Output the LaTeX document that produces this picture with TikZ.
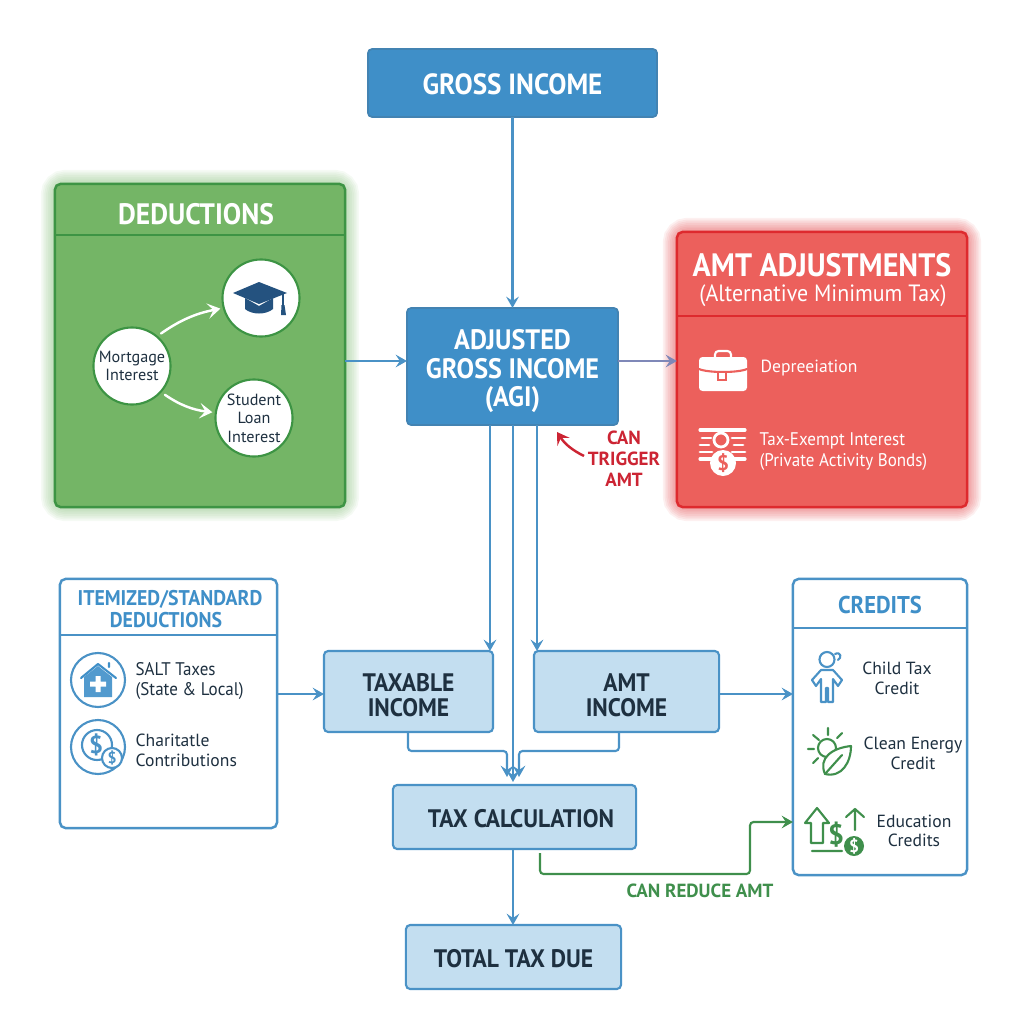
\documentclass[tikz,border=0pt]{standalone}
\usepackage{fontspec}
\setmainfont{PT Sans}
\newfontfamily\headfont[FakeStretch=0.93]{PT Sans}
\usetikzlibrary{arrows.meta,backgrounds}
\definecolor{blueMain}{HTML}{3F8FC8}
\definecolor{blueEdge}{HTML}{4A92C6}
\definecolor{blueLight}{HTML}{C3DEF0}
\definecolor{greenMain}{HTML}{74B566}
\definecolor{greenEdge}{HTML}{3D9444}
\definecolor{greenLine}{HTML}{3F8F4C}
\definecolor{redMain}{HTML}{EC605C}
\definecolor{redEdge}{HTML}{DE2A2E}
\definecolor{redText}{HTML}{CC2433}
\definecolor{darkText}{HTML}{1E3040}
\definecolor{capBlue}{HTML}{24527F}
\definecolor{mixLine}{HTML}{7F88B8}
\begin{document}
\begin{tikzpicture}[x=0.01cm,y=-0.01cm]
	\tikzstyle{MainBox} = [rectangle, rounded corners=1.2pt, inner sep=0, outer sep=0, text centered, align=center, draw=blueEdge!90!black, line width=0.5pt, fill=blueMain, text=white, font=\headfont\bfseries\fontsize{8.3}{8.3}\selectfont]
	\tikzstyle{LightBox} = [rectangle, rounded corners=1.2pt, inner sep=0, outer sep=0, text centered, align=center, draw=blueEdge, line width=0.6pt, fill=blueLight, text=darkText, font=\headfont\bfseries\fontsize{7.2}{7.1}\selectfont]
	\tikzstyle{PanelBox} = [rectangle, rounded corners=1.6pt, inner sep=0, outer sep=0, line width=0.7pt]
	\tikzstyle{Bubble} = [circle, inner sep=0, outer sep=0, minimum size=0.77cm, draw=greenEdge, line width=0.6pt, fill=white, align=center, text=darkText, font=\fontsize{4.6}{5.3}\selectfont]
	\tikzstyle{Label} = [inner sep=0, align=left, anchor=west, text=darkText, font=\fontsize{5}{5.7}\selectfont]
	\tikzstyle{CenterLabel} = [inner sep=0, align=center, text=darkText, font=\fontsize{5}{5.6}\selectfont]
	\tikzstyle{Title} = [inner sep=0, align=center, font=\headfont\bfseries\fontsize{8.4}{8.4}\selectfont]
	\tikzstyle{arrow} = [line width=0.6pt, draw=blueEdge, ->, >={Stealth[length=3.2pt,width=3.6pt,inset=1.2pt]}, rounded corners=1pt]
	\tikzstyle{whiteArrow} = [white, line width=0.7pt, line cap=round, shorten <=1.5pt, shorten >=1pt, ->, >={Stealth[length=3.6pt,width=4.4pt,inset=1.6pt]}]
	\tikzstyle{icon} = [line width=0.6pt, line join=round, line cap=round]
	\useasboundingbox (0,0) rectangle (1024,1024);

	% main column
	\node (grossNode) [MainBox, minimum width=2.89cm, minimum height=0.68cm] at (512.5,83) {\rule{0pt}{6.6pt}GROSS INCOME};
	\node (agiNode) [MainBox, minimum width=2.11cm, minimum height=1.17cm, font=\headfont\bfseries\fontsize{8}{8.1}\selectfont] at (512.5,366.5) {\rule{0pt}{8.5pt}ADJUSTED\\GROSS INCOME\\(AGI)};
	\node (taxableNode) [LightBox, minimum width=1.69cm, minimum height=0.81cm] at (408.5,691.5) {\rule{0pt}{7pt}TAXABLE\\INCOME};
	\node (amtIncomeNode) [LightBox, minimum width=1.85cm, minimum height=0.81cm] at (626.5,691.5) {\rule{0pt}{7pt}AMT\\INCOME};
	\node (calcNode) [LightBox, minimum width=2.43cm, minimum height=0.64cm] at (514.5,817) {\hspace*{0.13cm}\rule{0pt}{6.2pt}TAX CALCULATION};
	\node (totalNode) [LightBox, minimum width=2.15cm, minimum height=0.64cm] at (513.5,957) {\rule{0pt}{6.2pt}TOTAL TAX DUE};

	% panels
	\node (dedBox) [PanelBox, draw=greenEdge, fill=greenMain, minimum width=2.90cm, minimum height=3.23cm] at (200,345.5) {};
	\node (amtBox) [PanelBox, draw=redEdge, fill=redMain, minimum width=2.90cm, minimum height=2.75cm] at (822,369.5) {};
	\node (itemBox) [PanelBox, draw=blueEdge, fill=white, minimum width=2.17cm, minimum height=2.49cm] at (168.5,703.5) {};
	\node (creditBox) [PanelBox, draw=blueEdge, fill=white, minimum width=1.74cm, minimum height=2.96cm] at (880,727) {};
	\begin{pgfonlayer}{background}
		\foreach \w in {1,2,...,8} {
			\draw [greenMain, opacity=0.07, line width=\w pt, rounded corners=3pt] (dedBox.south west) rectangle (dedBox.north east);
			\draw [redEdge, opacity=0.07, line width=\w pt, rounded corners=3pt] (amtBox.south west) rectangle (amtBox.north east);
		}
	\end{pgfonlayer}
	\draw [greenEdge, line width=0.5pt] (55,235) -- (345,235);
	\draw [redEdge, line width=0.5pt] (677,316) -- (967,316);
	\draw [blueEdge, line width=0.6pt] (60,635) -- (277,635);
	\draw [blueEdge, line width=0.6pt] (793,628) -- (967,628);

	% panel titles
	\node (dedTitle) [Title, text=white] at (196,214) {DEDUCTIONS};
	\node (amtTitle) [Title, text=white, font=\headfont\bfseries\fontsize{9.2}{9.2}\selectfont] at (822,265.5) {AMT ADJUSTMENTS};
	\node (amtSub) [Title, text=white, font=\headfont\fontsize{6.7}{7}\selectfont] at (823,296) {(Alternative Minimum Tax)};
	\node (itemTitle) [Title, text=blueMain, font=\headfont\bfseries\fontsize{6.05}{6}\selectfont] at (170,599) {ITEMIZED/STANDARD};
	\node (itemTitleB) [Title, text=blueMain, font=\headfont\bfseries\fontsize{6.05}{6}\selectfont] at (166,620) {DEDUCTIONS};
	\node (creditTitle) [Title, text=blueMain, font=\headfont\bfseries\fontsize{6.9}{6.9}\selectfont] at (880,605) {CREDITS};

	% deductions content
	\node (mortgageNode) [Bubble] at (132,366) {Mortgage\\Interest};
	\node (capNode) [Bubble] at (261,298) {};
	\node (studentNode) [Bubble] at (254,418) {Student\\Loan\\Interest};
	\draw [whiteArrow] (mortgageNode.50) to[bend left=12] (capNode.195);
	\draw [whiteArrow] (mortgageNode.-42) to[bend right=14] (studentNode.172);
	\fill [capBlue] (245,298) -- (245,309) .. controls (252,315) and (266,315) .. (273,309) -- (273,298) -- (259,306) -- cycle;
	\fill [capBlue] (233,293) -- (259,282) -- (287,293) -- (259,304) -- cycle;
	\draw [capBlue, line width=0.5pt] (283,294) -- (283,306);
	\fill [capBlue] (281.5,305) -- (284.5,305) -- (286,315) -- (281,315) -- cycle;

	% amt content
	\node (deprNode) [Label, text=white] at (760,368) {Depreeiation};
	\node (exemptNode) [Label, text=white, font=\headfont\fontsize{5.2}{6}\selectfont] at (759,452) {Tax-Exempt Interest\\(Private Activity Bonds)};
	\fill [white, rounded corners=1pt] (699,357) rectangle (747,391);
	\draw [white, icon, rounded corners=1pt] (715,357) -- (715,351) -- (731,351) -- (731,357);
	\draw [redMain, icon] (699,369) .. controls (708,373) and (738,373) .. (747,369);
	\draw [redMain, fill=white, line width=0.4pt] (718,372) rectangle (726,380);
	\draw [white, icon, line width=0.9pt] (700,430) -- (745,430) (700,459) -- (716,459) (732,459) -- (745,459);
	\draw [white, icon, line width=0.8pt] (702,438) -- (711,438) (732,438) -- (745,438) (700,445) -- (709,445) (734,445) -- (743,445) (700,452) -- (712,452) (732,452) -- (745,452);
	\draw [white, icon, line width=0.8pt] (721,440) circle (7);
	\fill [white] (723,463) circle (13);
	\node (bondDollar) [inner sep=0, text=redMain, font=\bfseries\fontsize{6}{6}\selectfont] at (723,463) {\$};

	% itemized content
	\draw [blueEdge, line width=0.6pt] (98,680) circle (27);
	\fill [blueMain!90!white] (84,677) -- (98,666) -- (112,677) -- (112,697) -- (84,697) -- cycle;
	\draw [blueMain, icon] (81,678) -- (98,664) -- (116,678) (109,667) -- (109,663);
	\fill [white] (95.5,676) rectangle (100.5,692) (90,681.5) rectangle (106,686.5);
	\draw [blueEdge, line width=0.6pt] (98,747) circle (27);
	\draw [blueEdge, line width=0.6pt] (97,745) circle (15);
	\node (coinDollar) [inner sep=0, text=blueEdge, font=\bfseries\fontsize{7}{7}\selectfont] at (96,745) {\$};
	\draw [blueEdge, fill=white, line width=0.6pt] (112,758) circle (10);
	\node (coinDollarB) [inner sep=0, text=blueEdge, font=\bfseries\fontsize{4.5}{5}\selectfont] at (112,758) {\$};
	\node (saltNode) [Label, font=\headfont\fontsize{5.2}{5.7}\selectfont] at (135,681) {SALT Taxes\\(State \& Local)};
	\node (charityNode) [Label] at (135,750) {Charitatle\\Contributions};

	% credits content
	\draw [blueEdge, icon] (827,659.5) circle (7.5);
	\draw [blueEdge, icon] (835,654) .. controls (841,651) and (842,658) .. (838,660);
	\draw [blueEdge, icon] (821,670) -- (812,680) -- (816,686) -- (821,679) -- (821,702) -- (826,702) -- (826,688) -- (828,688) -- (828,702) -- (833,702) -- (833,679) -- (838,686) -- (842,680) -- (833,670) -- cycle;
	\node (childNode) [CenterLabel] at (897,678) {Child Tax\\Credit};
	\draw [greenLine, icon] (827,748) circle (9);
	\draw [greenLine, icon] (828,728) -- (828,735) (813,735) -- (819,740) (842,733) -- (837,738) (808,749) -- (814,749) (813,763) -- (818,758);
	\draw [greenLine, icon, fill=white] (825,774) .. controls (818,758) and (832,748) .. (851,746) .. controls (851,762) and (842,778) .. (825,774) -- cycle;
	\draw [greenLine, icon] (825,774) -- (842,755);
	\node (energyNode) [CenterLabel] at (913,753) {Clean Energy\\Credit};
	\draw [greenLine, icon] (817,808) -- (829,823) -- (823,823) -- (823,843) -- (811,843) -- (811,823) -- (805,823) -- cycle;
	\draw [greenLine, icon] (812,851) -- (842,851) (855,830) -- (855,809) (846,817) -- (855,809) -- (864,817);
	\node (eduDollar) [inner sep=0, text=greenLine, font=\bfseries\fontsize{8}{8}\selectfont] at (836,835) {\$};
	\fill [greenLine] (854,846) circle (10);
	\node (eduCoin) [inner sep=0, text=white, font=\bfseries\fontsize{5}{5}\selectfont] at (854,846) {\$};
	\node (eduNode) [CenterLabel] at (914,831) {Education\\Credits};

	% helpers for offset connectors
	\coordinate (midRow) at (0,361);
	\coordinate (incomeRow) at (0,694);
	\coordinate (leftDrop) at (490,0);
	\coordinate (midDrop) at (513,0);
	\coordinate (rightDrop) at (537,0);
	\coordinate (leftJoin) at (507,0);
	\coordinate (rightJoin) at (519,0);
	\coordinate (greenStart) at (540,853);
	\coordinate (greenLow) at (540,874);
	\coordinate (greenUp) at (750,874);
	\coordinate (greenTop) at (750,822);

	\draw [arrow] (grossNode) -- (agiNode);
	\draw [arrow] (dedBox.east |- midRow) -- (agiNode.west |- midRow);
	\draw [arrow, draw=mixLine] (agiNode.east |- midRow) -- (amtBox.west |- midRow);
	\draw [arrow] (agiNode.south -| leftDrop) -- (taxableNode.north -| leftDrop);
	\draw [arrow] (agiNode.south -| rightDrop) -- (amtIncomeNode.north -| rightDrop);
	\draw [arrow] (agiNode.south -| midDrop) -- ([yshift=0.03cm]calcNode.north -| midDrop);
	\draw [arrow] (itemBox.east |- incomeRow) -- (taxableNode.west |- incomeRow);
	\draw [arrow] (amtIncomeNode.east |- incomeRow) -- (creditBox.west |- incomeRow);
	\draw [arrow] (taxableNode.south -| 408,0) -- (408,751) -- (507,751) -- ([yshift=0.08cm]calcNode.north -| leftJoin);
	\draw [arrow] (amtIncomeNode.south -| 619,0) -- (619,751) -- (519,751) -- ([yshift=0.08cm]calcNode.north -| rightJoin);
	\draw [arrow] (calcNode.south -| midDrop) -- (totalNode.north -| midDrop);
	\draw [arrow, draw=greenLine] (greenStart) -- (greenLow) -- (greenUp) -- (greenTop) -- (creditBox.west |- greenTop);

	% side notes
	\node (triggerNote) [inner sep=0, align=center, text=redText, font=\bfseries\fontsize{5.4}{6}\selectfont] at (624,459) {CAN\\TRIGGER\\AMT};
	\coordinate (triggerEnd) at (584,456);
	\coordinate (triggerTip) at (557,432);
	\draw [redText, line width=0.7pt, ->, >={Stealth[length=3.4pt,width=4.2pt,inset=1.4pt]}] (triggerEnd) to[bend left=15] (triggerTip);
	\node (reduceNote) [inner sep=0, text=greenLine, font=\bfseries\fontsize{5.4}{6}\selectfont] at (700,891) {CAN REDUCE AMT};
\end{tikzpicture}
\end{document}
